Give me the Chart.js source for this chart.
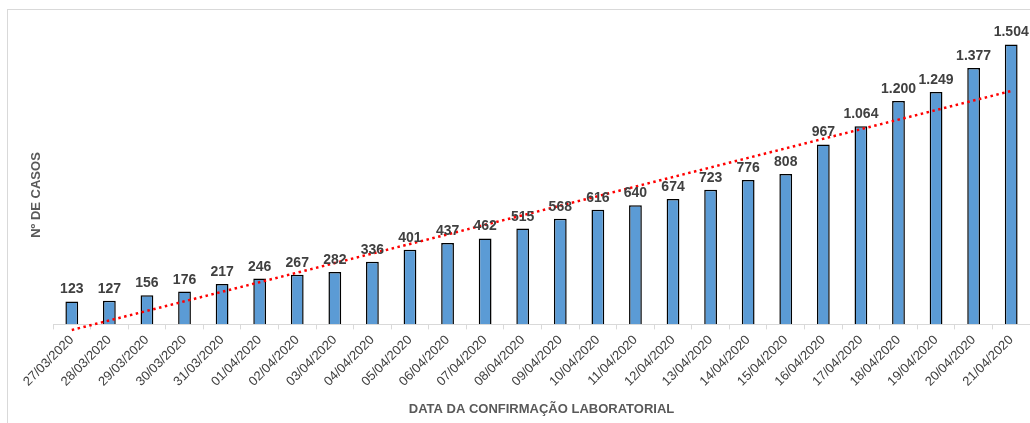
<!DOCTYPE html>
<html>
<head>
<meta charset="utf-8">
<script src="https://cdn.jsdelivr.net/npm/chart.js@4.4.1/dist/chart.umd.min.js"></script>
<style>
  html, body { margin: 0; padding: 0; background: #fff; }
  #wrap { width: 1030px; height: 423px; position: relative; }
</style>
</head>
<body>
<div id="wrap"><canvas id="chart" width="1030" height="423"></canvas></div>
<script>
const dates = ['27/03/2020', '28/03/2020', '29/03/2020', '30/03/2020', '31/03/2020',
    '01/04/2020', '02/04/2020', '03/04/2020', '04/04/2020', '05/04/2020', '06/04/2020',
    '07/04/2020', '08/04/2020', '09/04/2020', '10/04/2020', '11/04/2020', '12/04/2020',
    '13/04/2020', '14/04/2020', '15/04/2020', '16/04/2020', '17/04/2020', '18/04/2020',
    '19/04/2020', '20/04/2020', '21/04/2020'];

const casos = [123, 127, 156, 176, 217, 246, 267, 282, 336, 401, 437, 462, 515,
    568, 616, 640, 674, 723, 776, 808, 967, 1064, 1200, 1249, 1377, 1504];

const yTitle = 'Nº DE CASOS';
const xTitle = 'DATA DA CONFIRMAÇÃO LABORATORIAL';

// linear trendline (least squares over the cases)
function trend(values) {
    const n = values.length;
    let sx = 0, sy = 0, sxy = 0, sxx = 0;
    values.forEach((v, i) => { sx += i; sy += v; sxy += i * v; sxx += i * i; });
    const b = (n * sxy - sx * sy) / (n * sxx - sx * sx);
    const a = (sy - b * sx) / n;
    return values.map((_, i) => a + b * i);
}

function fmt(v) {
    return String(v).replace(/\B(?=(\d{3})+(?!\d))/g, '.');
}

const FONT = '"Liberation Sans", Arial, sans-serif';

// light frame + y title (sits lower than the plot centre in the original)
const frame = {
    id: 'frame',
    beforeDraw(chart) {
        const c = chart.ctx;
        c.save();
        c.strokeStyle = '#d9d9d9';
        c.lineWidth = 1;
        c.strokeRect(7.5, 9.5, 1200, 600);
        c.translate(36, 195);
        c.rotate(-Math.PI / 2);
        c.font = 'bold 13px ' + FONT;
        c.fillStyle = '#595959';
        c.textAlign = 'center';
        c.textBaseline = 'middle';
        c.fillText(yTitle, 0, 0);
        c.restore();
    }
};

const barLabels = {
    id: 'barLabels',
    afterDatasetsDraw(chart) {
        const c = chart.ctx;
        const meta = chart.getDatasetMeta(0);
        c.save();
        c.font = 'bold 14px ' + FONT;
        c.fillStyle = '#404040';
        c.textAlign = 'center';
        c.textBaseline = 'alphabetic';
        meta.data.forEach((bar, i) => {
            c.fillText(fmt(casos[i]), bar.x, bar.y - 8);
        });
        c.restore();
    }
};

new Chart(document.getElementById('chart'), {
    data: {
        labels: dates,
        datasets: [{
            type: 'bar',
            data: casos,
            backgroundColor: '#5b9bd5',
            borderColor: '#000000',
            borderWidth: 1.5,
            barPercentage: 0.34,
            categoryPercentage: 1,
            order: 1
        }, {
            type: 'line',
            data: trend(casos),
            borderColor: '#ff0000',
            borderWidth: 2.5,
            borderDash: [2.5, 3.5],
            pointRadius: 0,
            fill: false,
            clip: false,
            order: 0
        }]
    },
    options: {
        responsive: false,
        animation: false,
        layout: {
            padding: { left: 45, right: 0, top: 8, bottom: 6 }
        },
        plugins: {
            legend: { display: false },
            tooltip: { enabled: false }
        },
        scales: {
            y: {
                min: 0,
                max: 1700,
                ticks: { display: false },
                grid: { display: false },
                border: { display: false }
            },
            x: {
                offset: true,
                grid: {
                    display: true,
                    offset: true,
                    drawOnChartArea: false,
                    drawTicks: true,
                    tickLength: 5,
                    color: '#d9d9d9'
                },
                border: { display: true, color: '#d9d9d9', width: 1 },
                ticks: {
                    color: '#404040',
                    maxRotation: 45,
                    minRotation: 45,
                    autoSkip: false,
                    padding: 3,
                    font: { family: FONT, size: 13 }
                },
                title: {
                    display: true,
                    text: xTitle,
                    color: '#595959',
                    font: { family: FONT, size: 13, weight: 'bold' },
                    padding: { top: 9, bottom: 0 }
                }
            }
        }
    },
    plugins: [frame, barLabels]
});
</script>
</body>
</html>
